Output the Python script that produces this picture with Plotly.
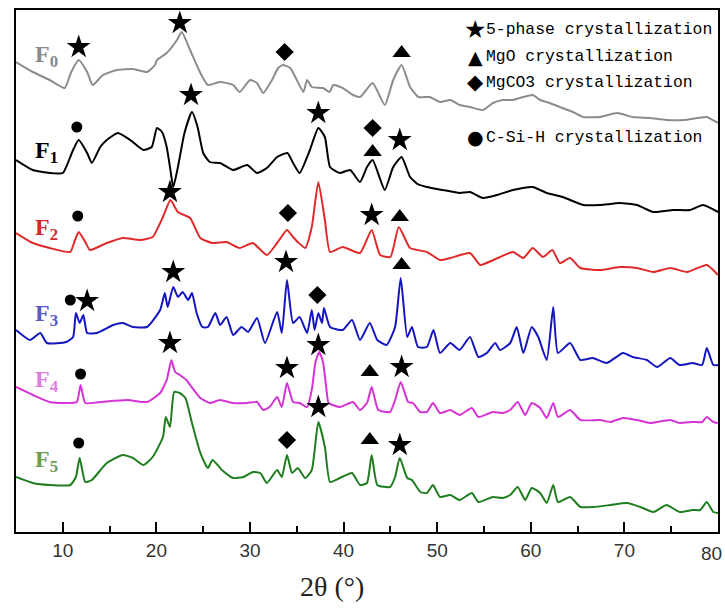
import plotly.graph_objects as go

# ---------------- data (2θ in degrees, stacked intensity in a.u.) ----------------
x_F0 = [5.0, 6.8, 8.6, 10.2, 10.9, 11.7, 12.6, 13.2, 14.3, 15.8, 17.5, 19.0, 19.85, 20.06, 21.1, 22.2, 22.7,
        23.6, 24.7, 25.5, 26.8, 28.2, 28.9, 30.0, 30.75, 31.4, 32.35, 33.0, 33.5, 34.3, 35.0, 35.7, 36.1, 36.6,
        37.8, 38.5, 38.9, 39.9, 41.0, 41.75, 43.1, 44.4, 45.3, 46.2, 47.1, 48.0, 49.2, 50.3, 51.4, 52.4, 53.5,
        54.9, 55.96, 57.0, 58.1, 59.2, 60.2, 61.0, 62.0, 63.1, 64.5, 65.6, 67.4, 69.2, 70.9, 72.7, 74.5, 76.3,
        77.8, 78.8, 80.0]
y_F0 = [470, 460, 452, 444, 460, 472, 460, 447, 457, 462, 463, 460, 467, 472, 479, 492, 500,
        482, 459, 447, 450, 447, 440, 452, 449, 439, 452, 464, 467, 464, 452, 440, 452, 445,
        444, 440, 447, 444, 437, 435, 449, 427, 452, 467, 445, 435, 435, 430, 432, 427, 425,
        422, 429, 432, 432, 435, 437, 432, 429, 425, 420, 415, 415, 419, 415, 414, 412, 412,
        414, 415, 409]

x_F1 = [5.0, 6.8, 8.6, 10.0, 10.45, 11.1, 11.7, 12.6, 13.1, 14.0, 14.7, 15.9, 17.2, 18.6, 19.5, 20.06, 20.6,
        21.1, 21.45, 21.8, 22.3, 23.0, 23.8, 24.4, 25.0, 25.7, 26.8, 28.2, 29.7, 30.75, 31.8, 32.9, 34.0, 34.6,
        35.3, 36.4, 37.3, 38.0, 38.55, 39.6, 40.7, 41.75, 42.5, 43.1, 44.4, 45.3, 46.2, 47.1, 47.9, 48.9, 50.6,
        52.4, 53.5, 54.9, 56.4, 58.1, 60.2, 61.7, 63.4, 65.6, 67.4, 69.5, 71.35, 73.1, 75.2, 77.0, 78.4, 80.0]
y_F1 = [372, 362, 359, 359, 367, 382, 392, 379, 369, 385, 392, 399, 392, 382, 385, 404, 400,
        385, 365, 345, 365, 399, 420, 405, 379, 370, 369, 362, 367, 359, 364, 375, 379, 369,
        359, 382, 404, 395, 365, 359, 362, 350, 365, 372, 342, 365, 375, 355, 348, 345, 342,
        339, 340, 334, 337, 342, 345, 339, 335, 327, 327, 329, 327, 320, 322, 322, 327, 320]

x_F2 = [5.0, 6.8, 8.6, 10.8, 11.3, 11.7, 12.4, 12.9, 14.7, 16.4, 18.25, 19.6, 20.7, 21.5, 22.3, 23.6, 24.7,
        26.0, 27.5, 28.9, 30.3, 31.8, 32.9, 33.95, 34.6, 35.1, 35.9, 36.6, 37.3, 38.0, 38.55, 39.9, 41.75,
        43.0, 43.9, 45.0, 45.9, 47.1, 48.9, 50.3, 51.4, 53.5, 54.6, 56.0, 58.1, 59.2, 60.2, 61.3, 62.3, 63.1,
        64.2, 65.3, 67.4, 69.5, 71.35, 73.1, 74.9, 76.7, 78.8, 80.0]
y_F2 = [299, 289, 284, 280, 292, 300, 290, 282, 289, 294, 292, 295, 315, 332, 320, 314, 294,
        289, 290, 284, 289, 277, 289, 302, 295, 290, 284, 305, 350, 312, 280, 285, 279,
        302, 277, 275, 305, 284, 280, 272, 274, 279, 267, 272, 280, 274, 284, 275, 282, 269,
        274, 264, 262, 265, 264, 260, 264, 260, 267, 257]

x_F3 = [5.0, 6.5, 7.6, 8.3, 10.4, 11.1, 11.4, 11.8, 12.2, 12.6, 13.65, 15.4, 16.4, 17.5, 19.0, 20.4, 20.9,
        21.2, 21.8, 22.3, 22.8, 23.4, 23.8, 24.3, 24.9, 25.5, 26.3, 26.8, 27.5, 28.2, 29.1, 29.8, 30.75, 31.6,
        32.9, 33.4, 33.95, 34.6, 35.3, 36.1, 36.6, 36.9, 37.3, 37.7, 37.9, 38.55, 39.9, 40.9, 41.75, 42.8,
        43.6, 44.6, 45.5, 46.1, 46.8, 47.3, 47.95, 48.9, 49.6, 50.3, 51.4, 52.4, 53.5, 54.4, 55.3, 56.2, 56.7,
        57.8, 58.5, 59.2, 60.1, 60.8, 61.7, 62.4, 62.9, 64.2, 65.3, 66.6, 68.1, 69.85, 70.9, 72.4, 73.5, 74.9,
        75.9, 77.3, 78.3, 78.8, 79.5, 80.0]
y_F3 = [202, 192, 199, 189, 190, 195, 219, 209, 217, 199, 199, 207, 209, 205, 205, 222, 239,
        225, 245, 235, 240, 232, 239, 219, 205, 205, 219, 207, 215, 197, 205, 200, 214, 189,
        220, 199, 252, 209, 215, 199, 222, 202, 219, 209, 224, 205, 202, 212, 192, 209,
        192, 187, 205, 254, 195, 205, 185, 185, 202, 179, 189, 182, 195, 175, 179, 189, 182,
        189, 205, 179, 205, 195, 172, 225, 179, 189, 172, 174, 169, 179, 175, 172, 165, 174,
        167, 169, 167, 184, 167, 167]

x_F4 = [5.0, 6.8, 8.6, 10.45, 11.5, 11.9, 12.4, 14.0, 16.9, 19.0, 20.4, 21.1, 21.6, 22.0, 22.5, 23.2, 23.6,
        24.7, 25.7, 26.8, 28.2, 29.7, 30.75, 31.4, 32.1, 32.9, 33.4, 33.95, 34.6, 35.3, 36.1, 36.6, 37.0, 37.4,
        37.8, 38.2, 38.4, 39.6, 41.0, 41.75, 42.5, 43.0, 43.7, 44.96, 45.5, 46.1, 46.9, 47.4, 48.2, 48.9,
        49.55, 50.3, 51.4, 52.4, 53.7, 54.4, 55.96, 57.0, 57.8, 58.6, 59.4, 60.1, 61.0, 61.7, 62.4, 62.9,
        64.2, 65.3, 67.4, 68.5, 69.85, 71.35, 72.7, 74.9, 75.9, 77.3, 78.3, 78.8, 79.5, 80.0]
y_F4 = [145, 137, 130, 129, 130, 147, 129, 130, 132, 130, 139, 152, 172, 160, 157, 152, 147,
        134, 129, 132, 129, 129, 130, 122, 125, 135, 125, 149, 130, 129, 125, 142, 170, 180,
        170, 140, 129, 125, 130, 122, 129, 145, 122, 120, 132, 150, 130, 129, 120, 120,
        129, 119, 122, 117, 124, 115, 120, 119, 122, 130, 117, 129, 124, 114, 129, 115,
        122, 112, 112, 110, 114, 112, 109, 112, 109, 110, 110, 115, 110, 109]

x_F5 = [5.0, 6.8, 8.6, 10.8, 11.4, 11.8, 12.4, 13.1, 14.7, 16.4, 17.5, 18.6, 19.6, 20.7, 21.0, 21.45, 21.9,
        22.5, 23.1, 23.8, 24.7, 25.5, 26.0, 27.0, 28.2, 29.3, 30.3, 31.1, 31.8, 32.9, 33.4, 33.95, 34.5, 35.1,
        35.9, 36.6, 37.3, 38.0, 38.55, 39.6, 40.9, 41.75, 42.5, 43.0, 43.6, 44.96, 45.5, 46.0, 46.8, 47.3,
        48.2, 48.9, 49.55, 50.3, 51.4, 52.4, 53.7, 54.4, 55.96, 57.0, 57.8, 58.6, 59.4, 60.1, 61.0, 61.7,
        62.4, 62.9, 64.2, 65.3, 66.65, 68.5, 70.3, 71.7, 73.1, 74.5, 75.9, 77.3, 78.1, 78.8, 79.5, 80.0]
y_F5 = [55, 49, 47, 47, 55, 74, 50, 52, 69, 77, 74, 67, 75, 95, 115, 105, 140,
        139, 134, 109, 79, 64, 72, 62, 54, 55, 60, 59, 49, 62, 55, 77, 59, 64,
        54, 62, 110, 85, 50, 54, 59, 47, 49, 77, 47, 45, 55, 74, 54, 52,
        40, 39, 47, 35, 37, 32, 39, 30, 35, 34, 37, 45, 32, 44, 39, 29,
        47, 30, 35, 25, 25, 27, 29, 25, 20, 27, 20, 22, 22, 30, 20, 19]

sample_names = ["F0", "F1", "F2", "F3", "F4", "F5"]
line_colors = ["#8c8c8c", "#000000", "#e02a2a", "#1515c0", "#d633d6", "#1e7d1e"]
label_colors = ["#8a8a8a", "#000000", "#d42a2a", "#5a5ac4", "#e07ee0", "#6e9e50"]

# peak markers (2θ, stacked height)
star_x = [11.7, 22.5, 23.7, 37.3, 46.0, 21.45, 43.0, 12.6, 21.8, 33.85, 21.45, 33.95, 37.3, 46.2, 37.3, 46.0]
star_y = [485, 509, 437, 419, 392, 340, 317, 231, 260, 270, 189, 164, 187, 165, 125, 87]
tri_x = [46.2, 43.1, 46.0, 46.2, 42.8, 42.8]
tri_y = [479, 380, 315, 267, 160, 92]
dia_x = [33.7, 43.1, 34.05, 37.2, 33.95]
dia_y = [480, 404, 319, 237, 92]
cir_x = [11.5, 11.6, 10.8, 11.9, 11.7]
cir_y = [405, 316, 232, 158, 89]

legend_labels = ["5-phase crystallization", "MgO crystallization",
                 "MgCO3 crystallization", "C-Si-H crystallization"]
legend_symbols = ["\u2605", "\u25B2", "\u25C6", "\u25CF"]
legend_symbol_sizes = [25, 19, 21, 19]

x_ticks = [10, 20, 30, 40, 50, 60, 70, 80]
x_tick_text = ["10", "20", "30", "40", "50", "60", "70", ""]
last_tick_text = "80"

# ---------------- figure ----------------
W, H = 725, 608
L, R, T, B = 16, 7, 10, 76
PW, PH = W - L - R, H - T - B


def px(xp):
    return (xp - L) / PW


def py(yp):
    return (H - B - yp) / PH


xs = [x_F0, x_F1, x_F2, x_F3, x_F4, x_F5]
ys = [y_F0, y_F1, y_F2, y_F3, y_F4, y_F5]

fig = go.Figure()
for name, x, y, c in zip(sample_names, xs, ys, line_colors):
    fig.add_trace(go.Scatter(x=x, y=y, mode="lines", name=name,
                             line=dict(color=c, width=2, shape="spline", smoothing=0.5),
                             showlegend=False, hoverinfo="skip"))

for mx, my, sym, size in [(star_x, star_y, "star", 18), (tri_x, tri_y, "triangle-up", 16),
                          (dia_x, dia_y, "diamond", 14), (cir_x, cir_y, "circle", 11)]:
    fig.add_trace(go.Scatter(x=mx, y=my, mode="markers",
                             marker=dict(symbol=sym, size=size, color="black", line=dict(width=0)),
                             showlegend=False, hoverinfo="skip"))

annotations = []
label_pos = [(33, 56), (33, 152), (33, 229), (33, 315), (33, 381), (33, 461)]
for name, col, (lx, ly) in zip(sample_names, label_colors, label_pos):
    annotations.append(dict(x=px(lx), y=py(ly), xref="paper", yref="paper", xanchor="left", yanchor="middle",
                            text="<b>F<sub>%s</sub></b>" % name[1:], showarrow=False,
                            font=dict(family="Liberation Serif", size=24, color=col)))

leg_rows = [30, 57, 82, 137]
for lab, sym, ssz, ry in zip(legend_labels, legend_symbols, legend_symbol_sizes, leg_rows):
    annotations.append(dict(x=px(475), y=py(ry), xref="paper", yref="paper", xanchor="center", yanchor="middle",
                            text=sym, showarrow=False,
                            font=dict(family="DejaVu Sans", size=ssz, color="black")))
    annotations.append(dict(x=px(484), y=py(ry), xref="paper", yref="paper", xanchor="left", yanchor="middle",
                            text=lab, showarrow=False,
                            font=dict(family="Liberation Mono", size=16.4, color="black")))

annotations.append(dict(x=px(724), y=py(553), xref="paper", yref="paper", xanchor="right", yanchor="middle",
                        text=last_tick_text, showarrow=False,
                        font=dict(family="Liberation Sans", size=19, color="#333")))

annotations.append(dict(x=px(332), y=py(586), xref="paper", yref="paper", xanchor="center", yanchor="middle",
                        text="2\u03b8 (\u00b0)", showarrow=False,
                        font=dict(family="Liberation Serif", size=28, color="#222")))

fig.update_layout(
    width=W, height=H, margin=dict(l=L, r=R, t=T, b=B, autoexpand=False),
    paper_bgcolor="white", plot_bgcolor="white",
    annotations=annotations,
    xaxis=dict(range=[5, 80], tickvals=x_ticks, ticktext=x_tick_text, ticks="inside", ticklen=10,
               tickwidth=1.5, tickcolor="black", automargin=False,
               minor=dict(dtick=5, tick0=5, ticks="inside", ticklen=6, tickwidth=1.5, tickcolor="black"),
               showline=True, linecolor="black", linewidth=1.5, mirror=True, showgrid=False, zeroline=False,
               tickfont=dict(family="Liberation Sans", size=19, color="#333")),
    yaxis=dict(range=[0, PH], showticklabels=False, ticks="", showline=True, linecolor="black", linewidth=1.5,
               mirror=True, showgrid=False, zeroline=False, automargin=False),
)

fig.write_html("out.html", config={"displayModeBar": False},
               post_script="document.body.style.margin='0px';")
